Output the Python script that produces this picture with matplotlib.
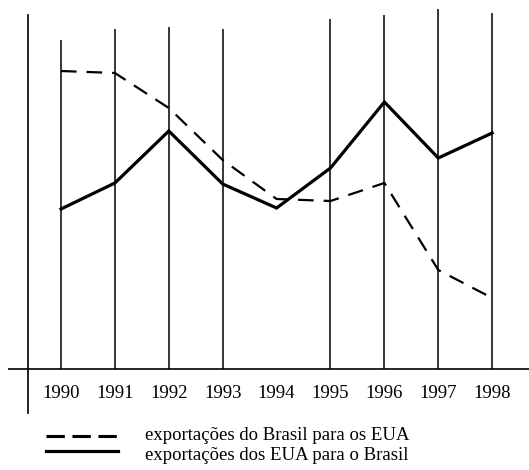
import matplotlib.pyplot as plt

years = [1990, 1991, 1992, 1993, 1994, 1995, 1996, 1997, 1998]
tick_labels = [str(y) for y in years]
# height above the base line
brasil_para_eua = [298, 296, 261, 209, 170, 168, 186, 99, 71]
eua_para_brasil = [160, 186, 238, 185, 161, 201, 267, 211, 236]
# vertical guide lines (no line drawn at 1994) and their uneven tops
guide_years = [1990, 1991, 1992, 1993, 1995, 1996, 1997, 1998]
guide_tops = [329, 340, 342, 340, 350, 354, 360, 356]

legend_labels = ["exportações do Brasil para os EUA",
                 "exportações dos EUA para o Brasil"]

plt.rcParams["font.family"] = ["Liberation Serif", "DejaVu Serif"]

fig = plt.figure(figsize=(5.29, 4.70), dpi=100)
ax = fig.add_axes([0, 0, 1, 1])
ax.set_xlim(1988.868, 1998.683)
ax.set_ylim(-101, 369)
ax.set_axis_off()

# axes drawn by hand, like the original sketch
ax.plot([1989.02, 1998.683], [0, 0], color="black", lw=1.2, solid_capstyle="butt")
ax.plot([1989.39, 1989.39], [-44, 354], color="black", lw=1.2)
ax.vlines(guide_years, 0, guide_tops, color="black", lw=1.1)

ax.plot(years, brasil_para_eua, color="black", lw=1.6, dashes=(7, 4.5))
ax.plot(years, eua_para_brasil, color="black", lw=2.3, solid_joinstyle="miter")

for yr, lab in zip(years, tick_labels):
    ax.text(yr, -25, lab, ha="center", va="center", fontsize=13.5)

# legend at the bottom
ax.plot([1989.72, 1991.12], [-67, -67], color="black", lw=2.2, dashes=(6, 2.5))
ax.plot([1989.72, 1991.05], [-82, -82], color="black", lw=2.3)
ax.text(1991.55, -67, legend_labels[0], ha="left", va="center", fontsize=13.5)
ax.text(1991.55, -87, legend_labels[1], ha="left", va="center", fontsize=13.5)

fig.savefig("out.png", dpi=100)
